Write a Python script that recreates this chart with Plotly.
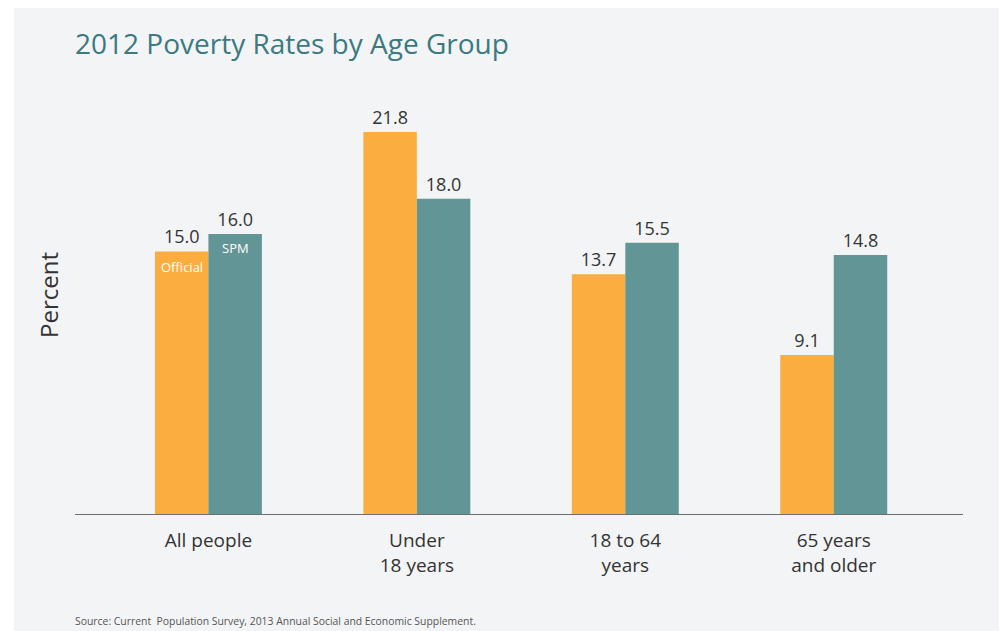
import plotly.graph_objects as go

categories = ["All people", "Under<br>18 years", "18 to 64<br>years", "65 years<br>and older"]
official = [15.0, 21.8, 13.7, 9.1]
spm = [16.0, 18.0, 15.5, 14.8]
x_idx = [0, 1, 2, 3]

ORANGE = "#FBAD3F"
TEAL = "#629595"
FONT = "Open Sans"

# page body adds an 8px margin; figure sized to fit the window
W, H = 999, 623
L, R, T, B = 67, 44, 67, 116
plot_w = W - L - R
plot_h = H - T - B
PX_PER_UNIT = 17.57


def px(xf):
    return (xf - L) / plot_w


def py(yf):
    return (H - B - yf) / plot_h


fig = go.Figure()
fig.add_trace(go.Bar(
    x=x_idx, y=official, name="Official", marker=dict(color=ORANGE, line=dict(width=0)),
    text=[f"{v:.1f}" for v in official], textposition="outside",
    textfont=dict(family=FONT, size=18, color="#333333"), cliponaxis=False,
))
fig.add_trace(go.Bar(
    x=x_idx, y=spm, name="SPM", marker=dict(color=TEAL, line=dict(width=0)),
    text=[f"{v:.1f}" for v in spm], textposition="outside",
    textfont=dict(family=FONT, size=18, color="#333333"), cliponaxis=False,
))

# panel background
fig.add_shape(type="rect", xref="paper", yref="paper", layer="below",
              x0=px(6), x1=px(W + 20), y0=py(H + 20), y1=py(0),
              fillcolor="#F3F4F6", line=dict(width=0))

fig.update_layout(
    width=W, height=H,
    margin=dict(l=L, r=R, t=T, b=B),
    paper_bgcolor="#F3F4F6", plot_bgcolor="rgba(0,0,0,0)",
    barmode="group", bargap=0.487, bargroupgap=0,
    showlegend=False,
    font=dict(family=FONT, color="#333333"),
    xaxis=dict(range=[-0.64, 3.62], tickvals=x_idx, ticktext=categories,
               showgrid=False, zeroline=False, showline=False, ticks="",
               ticklabelstandoff=12,
               tickfont=dict(family=FONT, size=19, color="#333333")),
    yaxis=dict(range=[0, plot_h / PX_PER_UNIT], showgrid=False, zeroline=False,
               showticklabels=False, showline=False,
               title=dict(text="Percent", font=dict(family=FONT, size=24, color="#333333"), standoff=8)),
)

# white strip left of the panel
fig.add_shape(type="rect", xref="paper", yref="paper", layer="below",
              x0=px(-20), x1=px(6), y0=py(H + 20), y1=py(-20),
              fillcolor="white", line=dict(width=0))

# baseline
fig.add_shape(type="line", xref="paper", yref="y", x0=0, x1=1, y0=0, y1=0,
              line=dict(color="#6E6E6E", width=2))

fig.add_annotation(text="2012 Poverty Rates by Age Group", xref="paper", yref="paper",
                   x=px(65), y=py(35), xanchor="left", yanchor="middle",
                   showarrow=False, font=dict(family=FONT, size=28, color="#3B7A80"))
fig.add_annotation(text="Source: Current  Population Survey, 2013 Annual Social and Economic Supplement.",
                   xref="paper", yref="paper", x=px(65), y=py(613),
                   xanchor="left", yanchor="middle", showarrow=False,
                   font=dict(family=FONT, size=10.4, color="#555555"))
fig.add_annotation(text="Official", x=-0.128, y=official[0], yref="y", xref="x", yshift=-16,
                   showarrow=False, font=dict(family=FONT, size=13, color="white"))
fig.add_annotation(text="SPM", x=0.128, y=spm[0], yref="y", xref="x", yshift=-14,
                   showarrow=False, font=dict(family=FONT, size=13, color="white"))

fig.write_html("out.html")
